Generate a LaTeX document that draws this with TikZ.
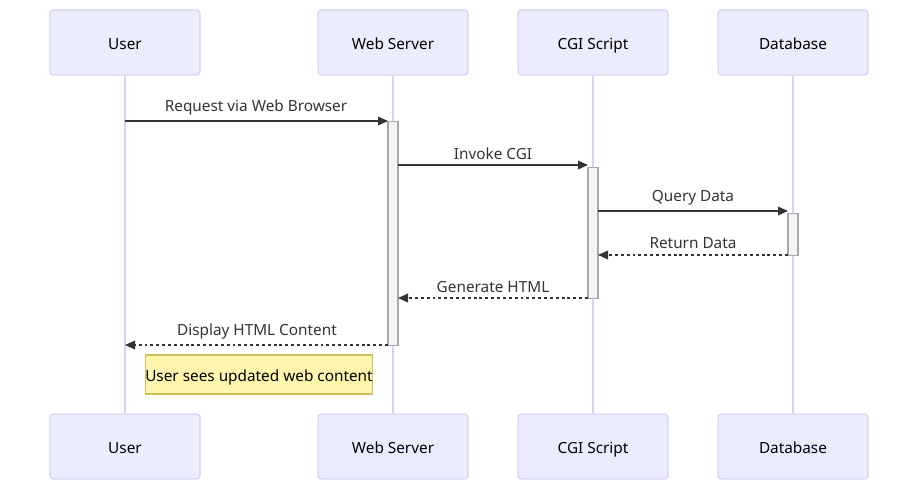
\documentclass[tikz,border=0pt]{standalone}
\usepackage{fontspec}
\setmainfont{Noto Sans}
\usetikzlibrary{arrows.meta}
\definecolor{actfill}{HTML}{ECECFF}
\definecolor{actdraw}{HTML}{D6D2F5}
\definecolor{lifec}{HTML}{D6D2F5}
\definecolor{barfill}{HTML}{F4F4F4}
\definecolor{bardraw}{HTML}{A8A8A8}
\definecolor{msgc}{HTML}{333333}
\definecolor{notefill}{HTML}{FFF5AD}
\definecolor{notedraw}{HTML}{C8C45A}
\tikzset{
  actor/.style={draw=actdraw, fill=actfill, line width=0.9pt, rounded corners=2.5pt,
    minimum width=150*0.75pt, minimum height=65*0.75pt, inner sep=0pt,
    text height=11pt, text depth=0pt,
    font=\fontsize{11.5pt}{13pt}\selectfont, text=black},
  life/.style={draw=lifec, line width=1.2pt},
  bar/.style={draw=bardraw, fill=barfill, line width=0.8pt},
  msg/.style={draw=msgc, line width=1pt, -{Triangle[length=7.5pt,width=6.5pt]}},
  reply/.style={msg, dash pattern=on 2.2pt off 2.2pt},
  lbl/.style={text=msgc, font=\fontsize{11.5pt}{13pt}\selectfont, inner sep=0pt},
  note/.style={draw=notedraw, fill=notefill, line width=0.8pt, inner sep=0pt,
    minimum width=218*0.75pt, minimum height=39*0.75pt,
    text height=11pt, text depth=0pt,
    font=\fontsize{11.5pt}{13pt}\selectfont, text=black}
}
\begin{document}
\begin{tikzpicture}[x=0.75pt, y=-0.75pt]
\useasboundingbox (0,0) rectangle (918,490);
% actors
\node[actor] (u1) at (125,42.5) {User};
\node[actor] (w1) at (393,42.5) {Web Server};
\node[actor] (c1) at (593,42.5) {CGI Script};
\node[actor] (d1) at (793,42.5) {Database};
\node[actor] (u2) at (125,446.5) {User};
\node[actor] (w2) at (393,446.5) {Web Server};
\node[actor] (c2) at (593,446.5) {CGI Script};
\node[actor] (d2) at (793,446.5) {Database};
% lifelines
\draw[life] (u1.south) -- (u2.north);
\draw[life] (w1.south) -- (w2.north);
\draw[life] (c1.south) -- (c2.north);
\draw[life] (d1.south) -- (d2.north);
% activations
\node[bar, minimum width=10*0.75pt, minimum height=224*0.75pt, inner sep=0pt, anchor=north] (wa) at (393,121) {};
\node[bar, minimum width=10*0.75pt, minimum height=131*0.75pt, inner sep=0pt, anchor=north] (ca) at (593,167) {};
\node[bar, minimum width=10*0.75pt, minimum height=42*0.75pt, inner sep=0pt, anchor=north] (da) at (793,213) {};
% message endpoints
\coordinate (m1s) at (125,121); \coordinate (m1e) at (388,121);
\coordinate (m2s) at (398,165); \coordinate (m2e) at (588,165);
\coordinate (m3s) at (598,211); \coordinate (m3e) at (788,211);
\coordinate (m4s) at (788,255); \coordinate (m4e) at (598,255);
\coordinate (m5s) at (588,298); \coordinate (m5e) at (398,298);
\coordinate (m6s) at (388,345); \coordinate (m6e) at (125,345);
\draw[msg] (m1s) -- (m1e);
\draw[msg] (m2s) -- (m2e);
\draw[msg] (m3s) -- (m3e);
\draw[reply] (m4s) -- (m4e);
\draw[reply] (m5s) -- (m5e);
\draw[reply] (m6s) -- (m6e);
\node[lbl] (l1) at (256,107.5) {Request via Web Browser};
\node[lbl] (l2) at (493,154) {Invoke CGI};
\node[lbl] (l3) at (693,198) {Query Data};
\node[lbl] (l4) at (693,243.5) {Return Data};
\node[lbl] (l5) at (493,287.5) {Generate HTML};
\node[lbl] (l6) at (257,331.5) {Display HTML Content};
\node[note] (n1) at (259,374.5) {User sees updated web content};
\end{tikzpicture}
\end{document}
